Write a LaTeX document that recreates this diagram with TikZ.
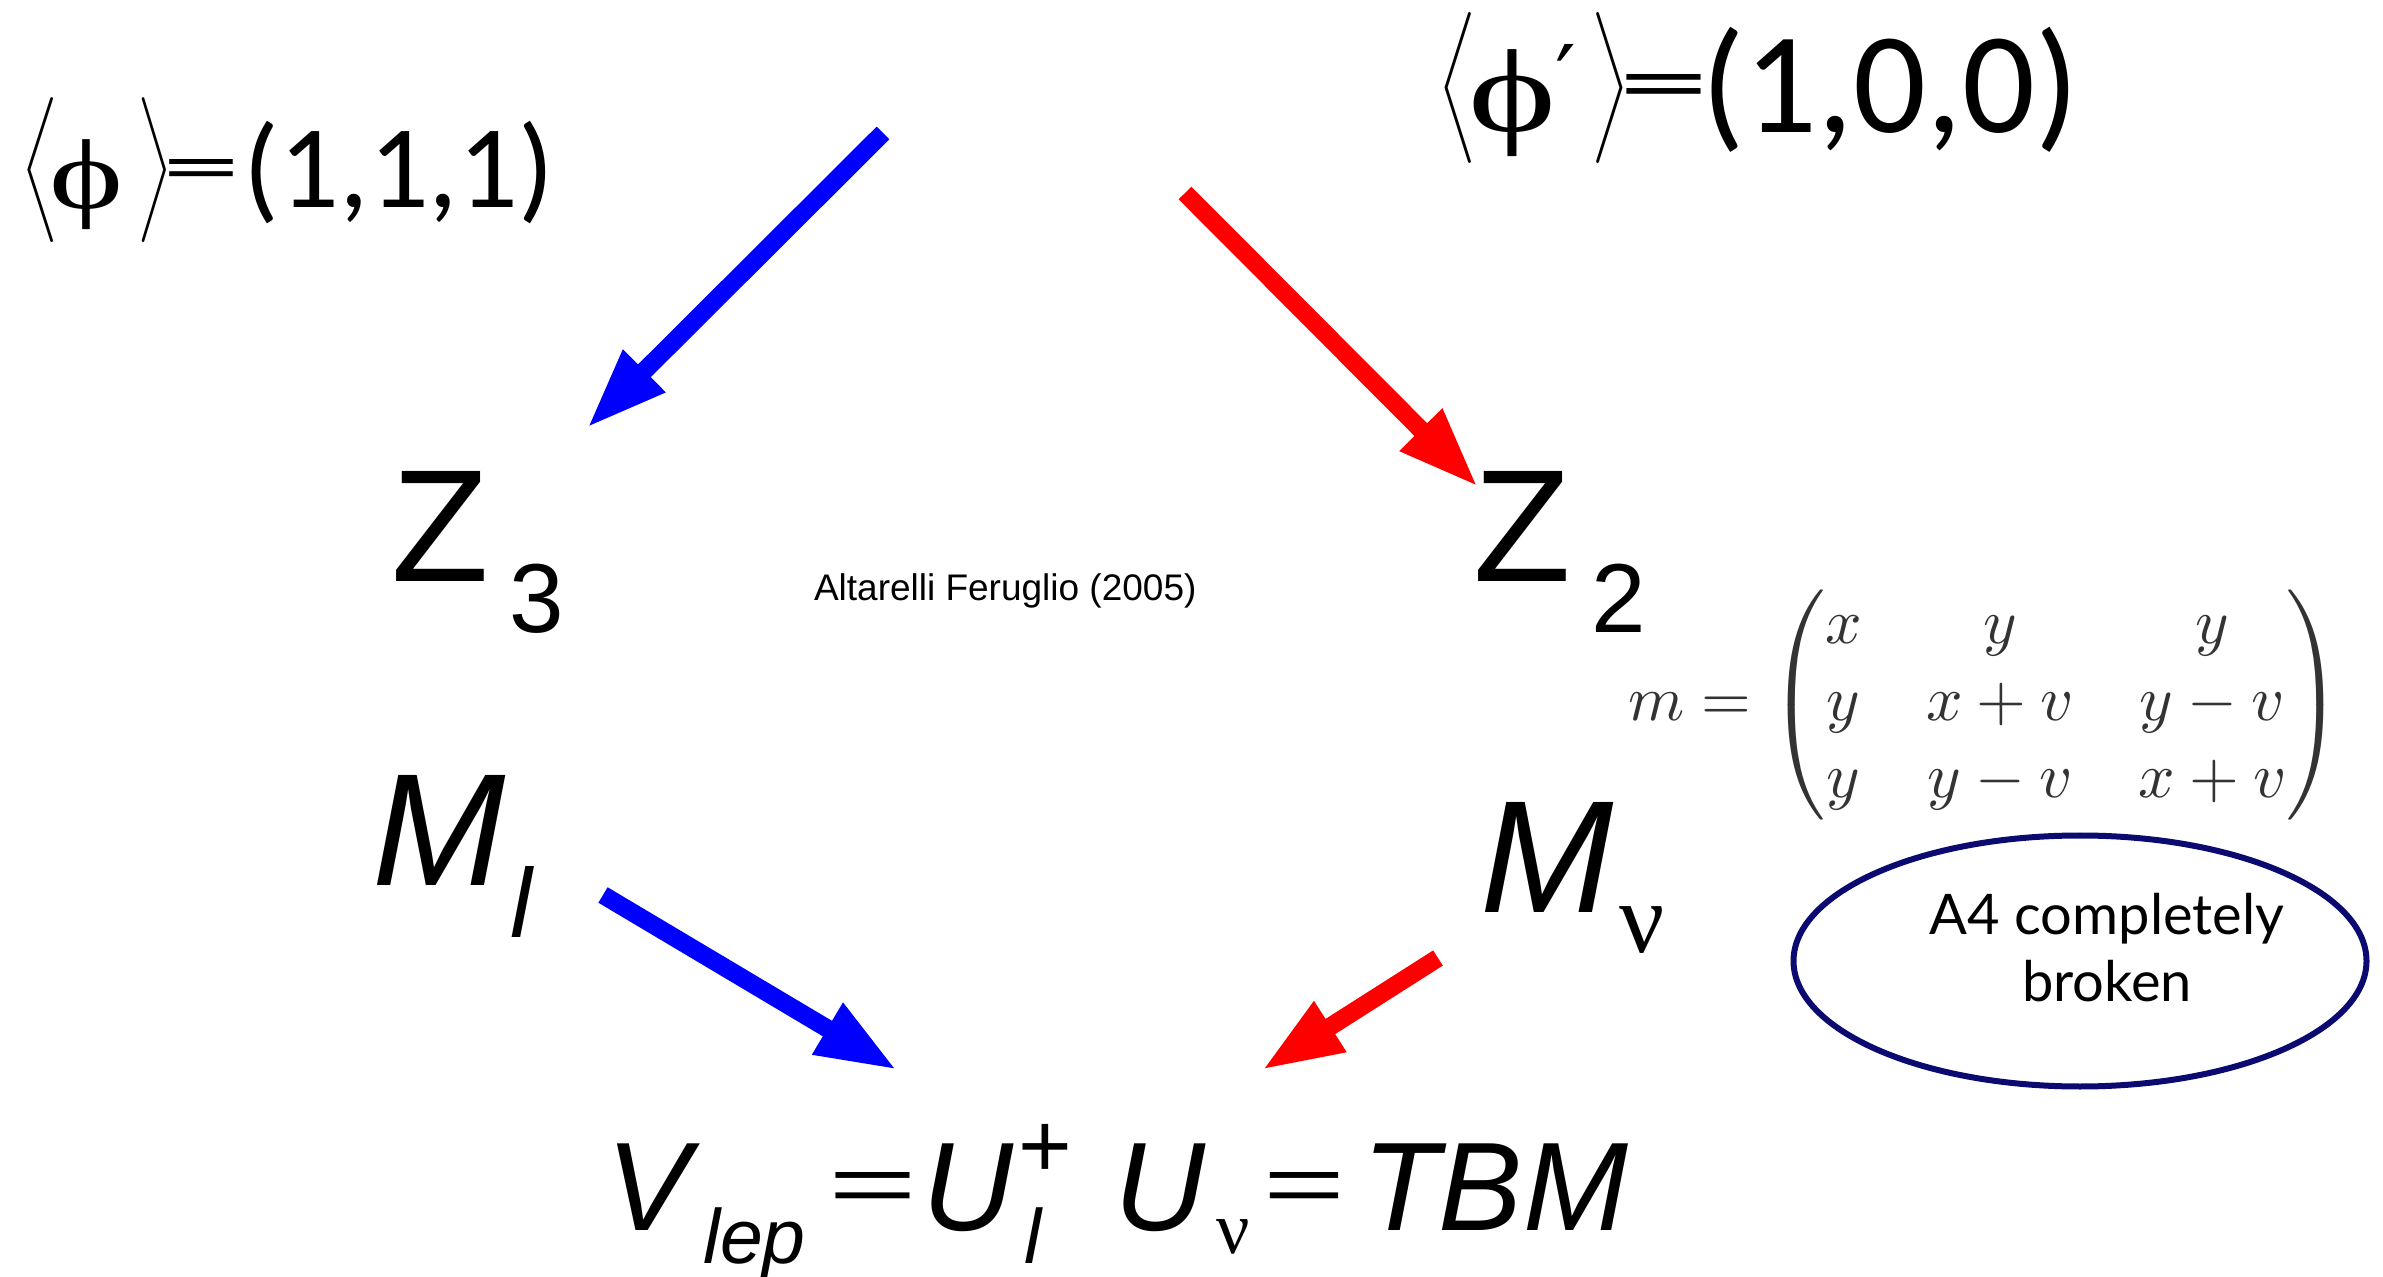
\documentclass[tikz,border=0pt]{standalone}
\usepackage{fontspec}
\usepackage{amsmath}
\usepackage{graphicx}
\usetikzlibrary{arrows.meta,shapes.geometric}
\newfontfamily\arialf{Liberation Sans}
\newfontfamily\carlf{Carlito}
\newfontfamily\timesf{Liberation Serif}
\newfontfamily\dvserif{DejaVu Serif}
\newfontfamily\dvsans{DejaVu Sans}
\newfontfamily\gillf{Lato}
\definecolor{navyc}{RGB}{10,10,112}
\newcommand\fsz[1]{\fontsize{#1}{#1}\selectfont}
\newcommand\putat[2]{\rlap{\kern#1\relax#2}}
\newsavebox\tbox
\newcommand\tallbox[4]{\sbox\tbox{\resizebox*{#2}{#3}{#1}}\raisebox{\dimexpr #4-(\ht\tbox-\dp\tbox)/2\relax}{\usebox\tbox}}
\tikzset{
  txt/.style={inner sep=0pt, outer sep=0pt},
  bigarrow/.style={line width=9pt, -{Triangle[length=40.5pt,width=27.5pt]}},
  bluearrow/.style={bigarrow, draw={rgb,255:red,0;green,0;blue,255}},
  redarrow/.style={bigarrow, draw={rgb,255:red,255;green,0;blue,0}},
}
\begin{document}
\begin{tikzpicture}[x=0.5pt,y=-0.5pt]
\fill[white] (0,0) rectangle (2383,1277);
\useasboundingbox (0,0) rectangle (2383,1277);

% vacuum expectation values
\node[txt, anchor=base west] (vev1) at (21,208) {\makebox[264pt][l]{%
  \putat{0pt}{\tallbox{$\Biggl\langle$}{18.5pt}{72.5pt}{18.75pt}}%
  \putat{14pt}{\tallbox{\timesf ϕ}{37pt}{45pt}{11.5pt}}%
  \putat{58.5pt}{\tallbox{$\Biggr\rangle$}{17.5pt}{72.5pt}{18.75pt}}%
  \putat{70.5pt}{\tallbox{\carlf =}{39pt}{16.5pt}{15.75pt}}%
  \putat{111.5pt}{\carlf\fsz{59}(1,1,1)}}};

\node[txt, anchor=base west] (vev2) at (1438,133) {\makebox[310pt][l]{%
  \putat{0pt}{\tallbox{$\Biggl\langle$}{19pt}{75.5pt}{22.75pt}}%
  \putat{15pt}{\tallbox{\timesf ϕ}{44pt}{53.5pt}{14.75pt}}%
  \putat{58.5pt}{\raisebox{10.5pt}{\dvsans\fsz{46}′}}%
  \putat{76.5pt}{\tallbox{$\Biggr\rangle$}{19pt}{75.5pt}{22.75pt}}%
  \putat{90pt}{\tallbox{\carlf =}{45.5pt}{19pt}{19.5pt}}%
  \putat{131.5pt}{\carlf\fsz{72}(1,0,0)}}};

% symmetry groups
\node[txt, anchor=base west] (z3) at (391,582) {\arialf\makebox[86pt][l]{%
  \putat{0pt}{\fsz{80}Z}\putat{59pt}{\raisebox{-25.5pt}{\fsz{49}3}}}};
\node[txt, anchor=base west] (z2) at (1473,582) {\arialf\makebox[86pt][l]{%
  \putat{0pt}{\fsz{80}Z}\putat{59pt}{\raisebox{-25.5pt}{\fsz{49}2}}}};

% mass matrices
\node[txt, anchor=base west] (ml) at (372,885) {\arialf\itshape\makebox[80pt][l]{%
  \putat{0pt}{\fsz{80}M}\putat{69pt}{\raisebox{-26pt}{\fsz{49}l}}}};
\node[txt, anchor=base west] (mnu) at (1480,912) {\makebox[95pt][l]{%
  \putat{0pt}{\arialf\itshape\fsz{80}M}\putat{69.5pt}{\raisebox{-20.5pt}{\timesf\fsz{50}ν}}}};

% reference
\node[txt, anchor=base west, font=\arialf\fsz{18.5}] (ref) at (814,601) {Altarelli Feruglio (2005)};

% neutrino mass matrix
\node[txt, anchor=west, text=black!80] (mat) at (1628,705)
  {\scalebox{3.2}{$m=\begin{pmatrix} x & y & y\\ y & x+v & y-v\\ y & y-v & x+v\end{pmatrix}$}};

% ellipse
\node[ellipse, draw=navyc, line width=3pt, minimum width=286.5pt, minimum height=125.5pt, inner sep=0pt] (brk) at (2080,961) {};
\node[txt, align=center, font=\gillf\fontsize{28}{33.5}\selectfont] (brktxt) at (2107,948) {A4 completely\\broken};

% lepton mixing
\node[txt, anchor=base west] (vlep) at (606,1230) {\arialf\itshape\makebox[512pt][l]{%
  \putat{0pt}{\fsz{63}V}%
  \putat{48.5pt}{\raisebox{-16.5pt}{\fsz{38.5}lep}}%
  \putat{111pt}{\tallbox{\upshape =}{44.5pt}{20pt}{19pt}}%
  \putat{158pt}{\fsz{63}U}%
  \putat{206pt}{\raisebox{26.5pt}{\upshape\fsz{46}+}}%
  \putat{209pt}{\raisebox{-16.5pt}{\fsz{38.5}l}}%
  \putat{254pt}{\fsz{63}U}%
  \putat{305pt}{\raisebox{-11.5pt}{\timesf\upshape\fsz{37}ν}}%
  \putat{328.5pt}{\tallbox{\upshape =}{41pt}{20pt}{19pt}}%
  \putat{378pt}{\fsz{63}TBM}}};

% arrows
\coordinate (b1s) at (883,133);  \coordinate (b1e) at (587,428);
\coordinate (r1s) at (1185,193); \coordinate (r1e) at (1478,487);
\coordinate (b2s) at (603,895);  \coordinate (b2e) at (897,1070);
\coordinate (r2s) at (1438,958); \coordinate (r2e) at (1262,1070);
\draw[bluearrow] (b1s) -- (b1e);
\draw[redarrow] (r1s) -- (r1e);
\draw[bluearrow] (b2s) -- (b2e);
\draw[redarrow] (r2s) -- (r2e);
\end{tikzpicture}
\end{document}
